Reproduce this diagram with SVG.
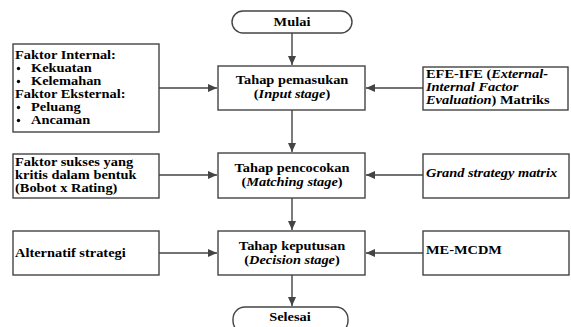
<svg xmlns="http://www.w3.org/2000/svg" width="571" height="327" viewBox="0 0 571 327">
<style>
.box{fill:#fff;stroke:#444;stroke-width:1.4}
.t{font-family:"Liberation Serif","Times New Roman",serif;font-size:12px;font-weight:bold;fill:#000}
.c{text-anchor:middle}
.i{font-style:italic}
.ln{stroke:#444;stroke-width:1.4;fill:none}
</style>
<defs>
<marker id="ah" markerWidth="10" markerHeight="10" refX="9" refY="5" orient="auto" markerUnits="userSpaceOnUse">
<path d="M0,1 L9,5 L0,9 Z" fill="#444"/>
</marker>
</defs>
<rect width="571" height="327" fill="#fff"/>
<g id="connectors">
<line class="ln" x1="292" y1="33" x2="292" y2="65" marker-end="url(#ah)"/>
<line class="ln" x1="292" y1="110" x2="292" y2="152" marker-end="url(#ah)"/>
<line class="ln" x1="292" y1="198" x2="292" y2="230" marker-end="url(#ah)"/>
<line class="ln" x1="292" y1="275" x2="292" y2="306" marker-end="url(#ah)"/>
<line class="ln" x1="159" y1="88" x2="217" y2="88" marker-end="url(#ah)"/>
<line class="ln" x1="423" y1="88" x2="366" y2="88" marker-end="url(#ah)"/>
<line class="ln" x1="159" y1="175" x2="217" y2="175" marker-end="url(#ah)"/>
<line class="ln" x1="423" y1="175" x2="366" y2="175" marker-end="url(#ah)"/>
<line class="ln" x1="159" y1="253" x2="217" y2="253" marker-end="url(#ah)"/>
<line class="ln" x1="423" y1="253" x2="366" y2="253" marker-end="url(#ah)"/>
</g>
<g id="mulai">
<rect class="box" x="232" y="11" width="120" height="22" rx="11"/>
<text class="t c" transform="translate(292,26) scale(1.2,1)">Mulai</text>
</g>
<g id="input">
<rect class="box" x="218" y="66" width="147" height="44"/>
<text class="t c" transform="translate(292,84) scale(1.2,1)">Tahap pemasukan</text>
<text class="t c" transform="translate(292,98) scale(1.2,1)">(<tspan class="i">Input stage</tspan>)</text>
</g>
<g id="matching">
<rect class="box" x="218" y="153" width="147" height="45"/>
<text class="t c" transform="translate(292,172) scale(1.2,1)">Tahap pencocokan</text>
<text class="t c" transform="translate(292,186) scale(1.2,1)">(<tspan class="i">Matching stage</tspan>)</text>
</g>
<g id="decision">
<rect class="box" x="218" y="231" width="147" height="44"/>
<text class="t c" transform="translate(292,250) scale(1.2,1)">Tahap keputusan</text>
<text class="t c" transform="translate(292,264) scale(1.2,1)">(<tspan class="i">Decision stage</tspan>)</text>
</g>
<g id="selesai">
<rect class="box" x="233" y="307" width="115" height="26" rx="12"/>
<text class="t c" transform="translate(290,321) scale(1.2,1)">Selesai</text>
</g>
<g id="faktor">
<rect class="box" x="13" y="44" width="146" height="88"/>
<text class="t" transform="translate(15,59) scale(1.2,1)">Faktor Internal:</text>
<circle cx="18.5" cy="68.5" r="1.7" fill="#000"/>
<text class="t" transform="translate(31,72) scale(1.2,1)">Kekuatan</text>
<circle cx="18.5" cy="81.5" r="1.7" fill="#000"/>
<text class="t" transform="translate(31,85) scale(1.2,1)">Kelemahan</text>
<text class="t" transform="translate(15,98) scale(1.2,1)">Faktor Eksternal:</text>
<circle cx="18.5" cy="107.5" r="1.7" fill="#000"/>
<text class="t" transform="translate(31,111) scale(1.2,1)">Peluang</text>
<circle cx="18.5" cy="120.5" r="1.7" fill="#000"/>
<text class="t" transform="translate(31,124) scale(1.2,1)">Ancaman</text>
</g>
<g id="sukses">
<rect class="box" x="13" y="154" width="146" height="44"/>
<text class="t" transform="translate(15,166) scale(1.2,1)">Faktor sukses yang</text>
<text class="t" transform="translate(15,179) scale(1.2,1)">kritis dalam bentuk</text>
<text class="t" transform="translate(15,192) scale(1.2,1)">(Bobot x Rating)</text>
</g>
<g id="alternatif">
<rect class="box" x="13" y="231" width="146" height="44"/>
<text class="t" transform="translate(15,257) scale(1.2,1)">Alternatif strategi</text>
</g>
<g id="efe">
<rect class="box" x="423" y="67" width="145" height="43"/>
<text class="t" transform="translate(426,78) scale(1.2,1)">EFE-IFE (<tspan class="i">External-</tspan></text>
<text class="t i" transform="translate(426,91) scale(1.2,1)">Internal Factor</text>
<text class="t" transform="translate(426,104) scale(1.2,1)"><tspan class="i">Evaluation</tspan>) Matriks</text>
</g>
<g id="grand">
<rect class="box" x="423" y="154" width="146" height="44"/>
<text class="t i" transform="translate(426,177) scale(1.2,1)">Grand strategy matrix</text>
</g>
<g id="mcdm">
<rect class="box" x="423" y="231" width="146" height="44"/>
<text class="t" transform="translate(426,254) scale(1.2,1)">ME-MCDM</text>
</g>
</svg>
